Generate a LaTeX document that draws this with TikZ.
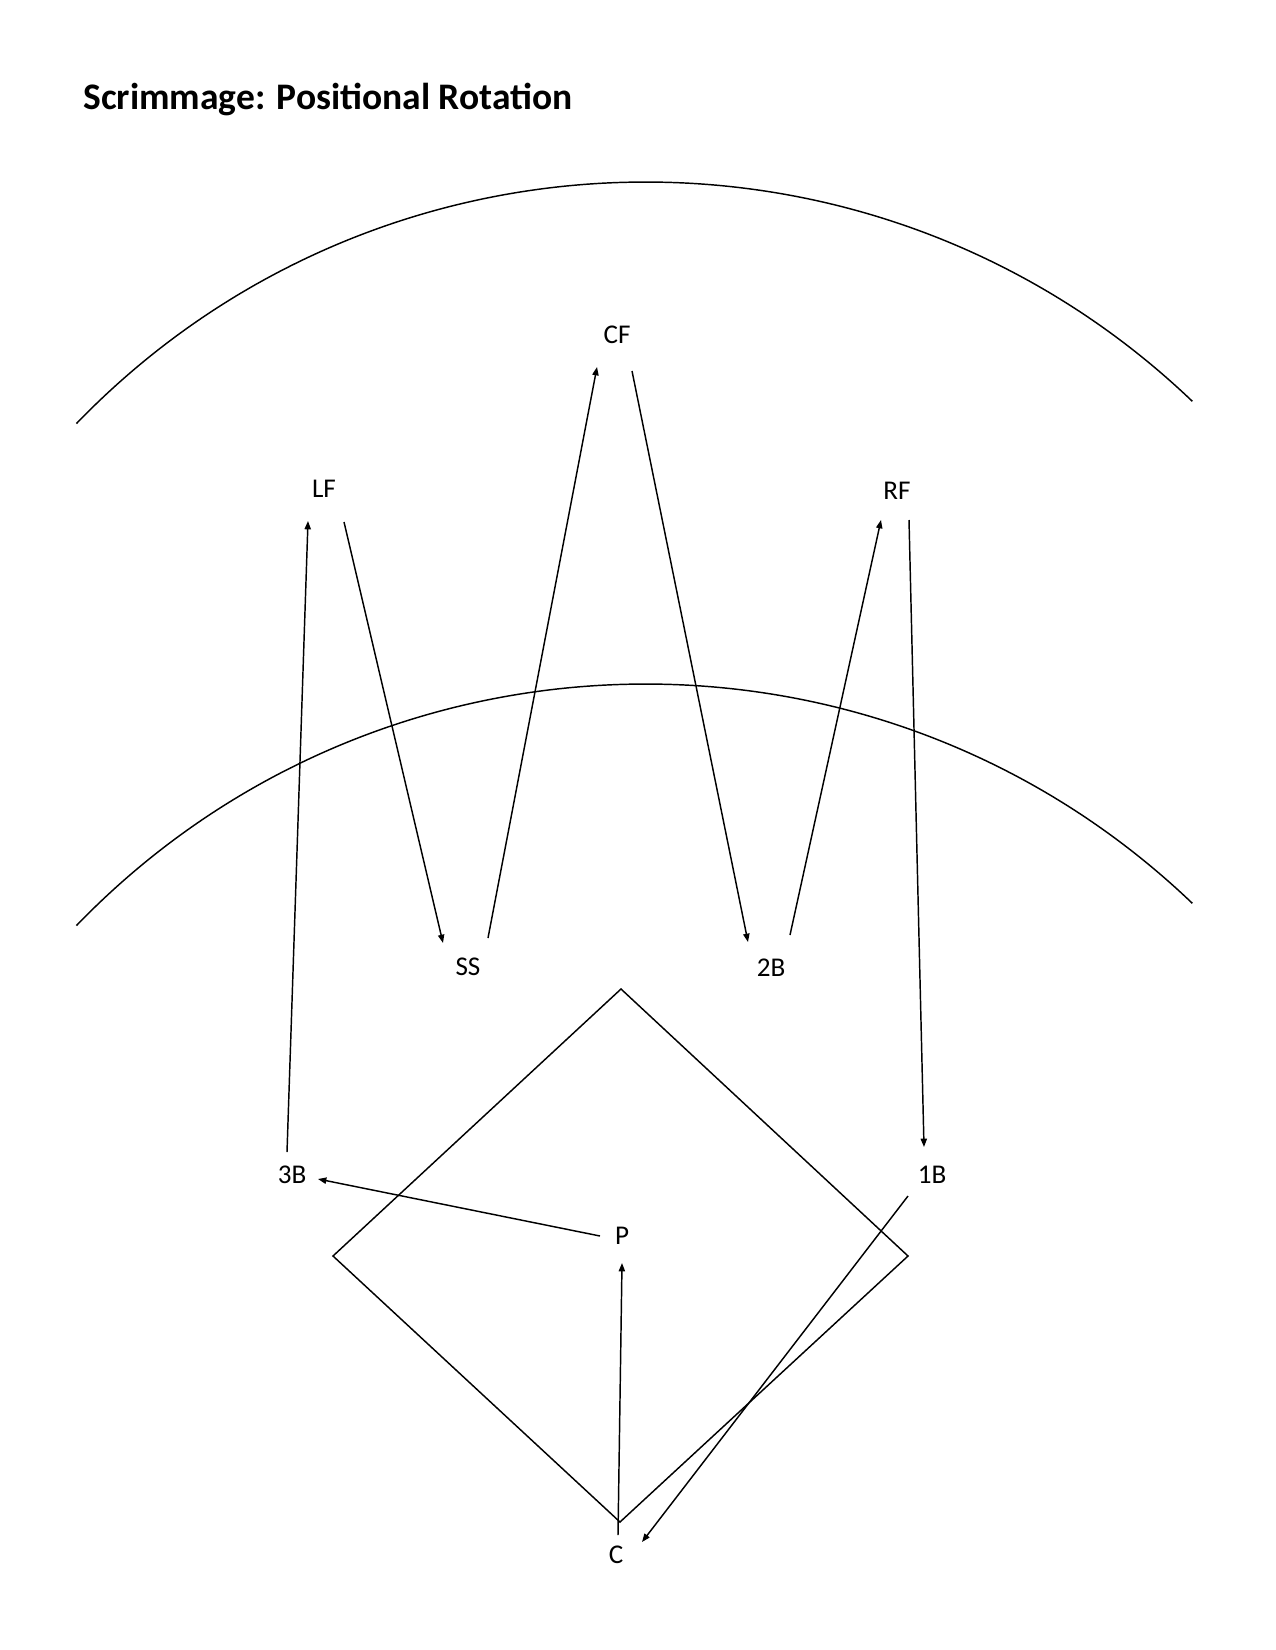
\documentclass[tikz,border=0pt]{standalone}
\usepackage{fontspec}
\setmainfont{Carlito}
\usetikzlibrary{arrows.meta,calc}

\tikzset{
  player/.style={font=\fontsize{13}{15}\selectfont, inner sep=0pt},
  arr/.style={-{Triangle[length=4pt,width=3pt]}, line width=0.7pt},
  fieldline/.style={line width=0.7pt}
}

\begin{document}
\begin{tikzpicture}[x=0.48pt, y=0.48pt]
\useasboundingbox (0,0) rectangle (1275,-1650);
\node[anchor=base west, font=\fontsize{18}{22}\selectfont\bfseries] (title) at (76,-110) {Scrimmage: Positional Rotation};

% outfield arcs
\foreach \dy in {0,502}
  \draw[fieldline] ([shift={(136:791.3)}]645.6,-973.3-\dy) arc[start angle=136, end angle=46.3, radius=791.3];

% infield
\draw[fieldline] (621,-989) -- (908,-1256) -- (620,-1522) -- (333,-1256) -- cycle;

% positions
\node[player] (CF) at (617,-335) {CF};
\node[player] (LF) at (324,-489) {LF};
\node[player] (RF) at (897,-491) {RF};
\node[player] (SS) at (468,-967) {SS};
\node[player] (2B) at (771,-968) {2B};
\node[player] (3B) at (292,-1175) {3B};
\node[player] (1B) at (932,-1175) {1B};
\node[player] (P) at (622,-1236) {P};
\node[player] (C) at (616,-1555) {C};

% rotation
\draw[arr] ($(LF)+(20,-33)$) -- ($(SS)+(-25,24)$);
\draw[arr] ($(SS)+(20,29)$) -- ($(CF)+(-20,-32)$);
\draw[arr] ($(CF)+(15,-36)$) -- ($(2B)+(-23,26)$);
\draw[arr] ($(2B)+(19,33)$) -- ($(RF)+(-16,-29)$);
\draw[arr] ($(RF)+(12,-29)$) -- ($(1B)+(-8,28)$);
\draw[arr] ($(1B)+(-24,-21)$) -- ($(C)+(26,13)$);
\draw[arr] ($(C)+(2,20)$) -- ($(P)+(0,-27)$);
\draw[arr] ($(P)+(-22,0)$) -- ($(3B)+(26,-4)$);
\draw[arr] ($(3B)+(-5,23)$) -- ($(LF)+(-16,-32)$);
\end{tikzpicture}
\end{document}
